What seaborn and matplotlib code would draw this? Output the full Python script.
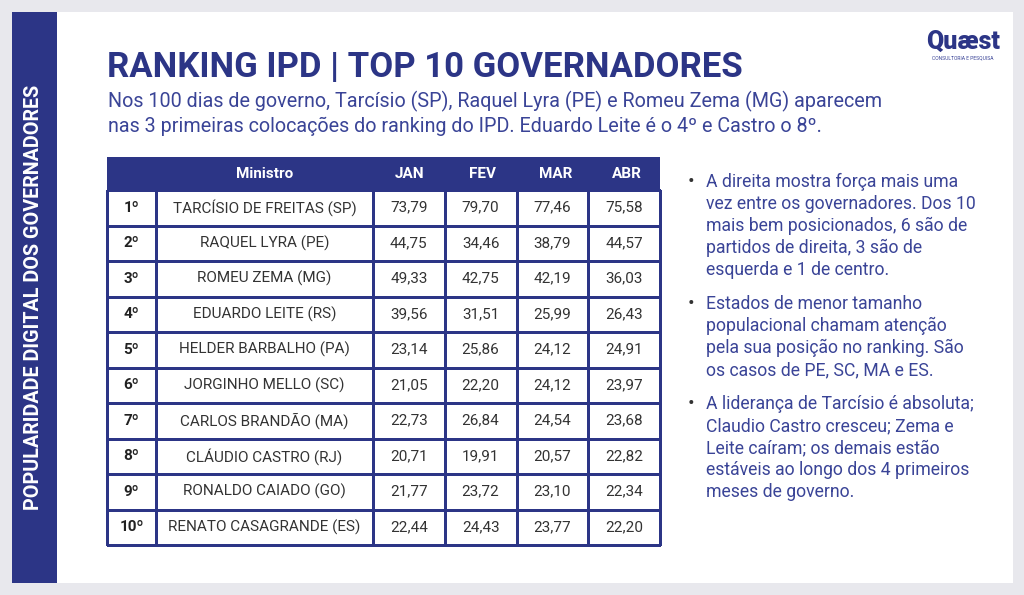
import numpy as np
import pandas as pd
import matplotlib.pyplot as plt
from matplotlib.colors import ListedColormap
from matplotlib.patches import Rectangle
import seaborn as sns

W, H = 1024, 595
NAVY = "#2c3586"
TEXT_BLUE = "#3a4497"

ranks = ["1º", "2º", "3º", "4º", "5º", "6º", "7º", "8º", "9º", "10º"]
names = ["TARCÍSIO DE FREITAS (SP)", "RAQUEL LYRA (PE)", "ROMEU ZEMA (MG)",
         "EDUARDO LEITE (RS)", "HELDER BARBALHO (PA)", "JORGINHO MELLO (SC)",
         "CARLOS BRANDÃO (MA)", "CLÁUDIO CASTRO (RJ)", "RONALDO CAIADO (GO)",
         "RENATO CASAGRANDE (ES)"]
months = ["JAN", "FEV", "MAR", "ABR"]
jan = [73.79, 44.75, 49.33, 39.56, 23.14, 21.05, 22.73, 20.71, 21.77, 22.44]
fev = [79.70, 34.46, 42.75, 31.51, 25.86, 22.20, 26.84, 19.91, 23.72, 24.43]
mar = [77.46, 38.79, 42.19, 25.99, 24.12, 24.12, 24.54, 20.57, 23.10, 23.77]
abr = [75.58, 44.57, 36.03, 26.43, 24.91, 23.97, 23.68, 22.82, 22.34, 22.20]

title = "RANKING IPD | TOP 10 GOVERNADORES"
subtitle = ["Nos 100 dias de governo, Tarcísio (SP), Raquel Lyra (PE) e Romeu Zema (MG) aparecem",
            "nas 3 primeiras colocações do ranking do IPD. Eduardo Leite é o 4º e Castro o 8º."]
bullets = [
    ["A direita mostra força mais uma", "vez entre os governadores. Dos 10",
     "mais bem posicionados, 6 são de", "partidos de direita, 3 são de",
     "esquerda e 1 de centro."],
    ["Estados de menor tamanho", "populacional chamam atenção",
     "pela sua posição no ranking. São", "os casos de PE, SC, MA e ES."],
    ["A liderança de Tarcísio é absoluta;", "Claudio Castro cresceu; Zema e",
     "Leite caíram; os demais estão", "estáveis ao longo dos 4 primeiros",
     "meses de governo."],
]
side_label = "POPULARIDADE DIGITAL DOS GOVERNADORES"

sns.set_theme(style="white")
plt.rcParams["font.family"] = ["Roboto", "DejaVu Sans"]


def box(x0, y0, x1, y1):
    return [x0 / W, 1 - y1 / H, (x1 - x0) / W, (y1 - y0) / H]


fig = plt.figure(figsize=(W / 100, H / 100), dpi=100)
fig.patch.set_facecolor("#e8e8ed")
fig.add_artist(Rectangle((12 / W, 1 - 583 / H), (1013 - 12) / W, (583 - 12) / H,
                         transform=fig.transFigure, facecolor="white", edgecolor="none",
                         zorder=-10))
fig.add_artist(Rectangle((12 / W, 1 - 583 / H), (57 - 12) / W, (583 - 12) / H,
                         transform=fig.transFigure, facecolor=NAVY, edgecolor="none",
                         zorder=-9))
fig.text(34 / W, 1 - 297 / H, side_label, rotation=90, color="white",
         fontsize=14.2, fontweight="bold", ha="center", va="center")

# title block
fig.text(107 / W, 1 - 68 / H, title, color=NAVY, fontsize=25, fontweight="bold", va="center")
for i, line in enumerate(subtitle):
    fig.text(108 / W, 1 - (101 + 25 * i) / H, line, color=TEXT_BLUE, fontsize=14.2, va="center")

# logo
fig.text(963 / W, 1 - 42 / H, "Quæst", color=NAVY, fontsize=18, fontweight="heavy",
         ha="center", va="center")
fig.text(963 / W, 1 - 58 / H, "CONSULTORIA E PESQUISA", color=TEXT_BLUE, fontsize=3.6,
         ha="center", va="center")

# table header
top, hdr, bottom = 157, 190, 545
edges = [107, 156, 373, 446, 519, 593, 660]
hax = fig.add_axes(box(edges[0], top, edges[-1], hdr))
hax.set_facecolor(NAVY)
hax.set_xlim(edges[0], edges[-1])
hax.set_ylim(0, 1)
hax.set_xticks([])
hax.set_yticks([])
for s in hax.spines.values():
    s.set_visible(False)
hdr_labels = ["Ministro"] + months
hdr_centers = [(edges[1] + edges[2]) / 2] + [(edges[i] + edges[i + 1]) / 2 for i in range(2, 6)]
for lab, cx in zip(hdr_labels, hdr_centers):
    hax.text(cx, 0.5, lab, color="white", fontsize=11, fontweight="bold", ha="center", va="center")

white = ListedColormap(["white"])
kw = dict(cmap=white, cbar=False, fmt="", linewidths=0.8, linecolor=NAVY,
          xticklabels=False, yticklabels=False)

# rank column
rank_df = pd.DataFrame({"r": np.zeros(len(ranks))})
ax_r = fig.add_axes(box(edges[0], hdr, edges[1], bottom))
sns.heatmap(rank_df, ax=ax_r, annot=np.array(ranks).reshape(-1, 1),
            annot_kws=dict(fontsize=11, fontweight="bold", color="#222222"), **kw)

# name column
name_df = pd.DataFrame({"n": np.zeros(len(names))})
ax_n = fig.add_axes(box(edges[1], hdr, edges[2], bottom))
sns.heatmap(name_df, ax=ax_n, annot=np.array(names).reshape(-1, 1),
            annot_kws=dict(fontsize=11, color="#333333"), **kw)

# values
vals = pd.DataFrame({"JAN": jan, "FEV": fev, "MAR": mar, "ABR": abr})
labels = vals.apply(lambda c: c.map(lambda v: f"{v:.2f}".replace(".", ","))).values
ax_v = fig.add_axes(box(edges[2], hdr, edges[-1], bottom))
sns.heatmap(vals, ax=ax_v, annot=labels, annot_kws=dict(fontsize=11, color="#333333"),
            vmin=0, vmax=100, **kw)
for a in (ax_r, ax_n, ax_v):
    a.set_xlabel("")
    a.set_ylabel("")
    a.collections[0].set_clip_on(False)

# bullets
y = 182
for para in bullets:
    fig.text(691 / W, 1 - y / H, "•", color="#333333", fontsize=14, va="center", ha="center")
    for line in para:
        fig.text(706 / W, 1 - y / H, line, color=TEXT_BLUE, fontsize=12.7, va="center")
        y += 22
    y += 12

fig.savefig("out.png", dpi=100, facecolor=fig.get_facecolor())
